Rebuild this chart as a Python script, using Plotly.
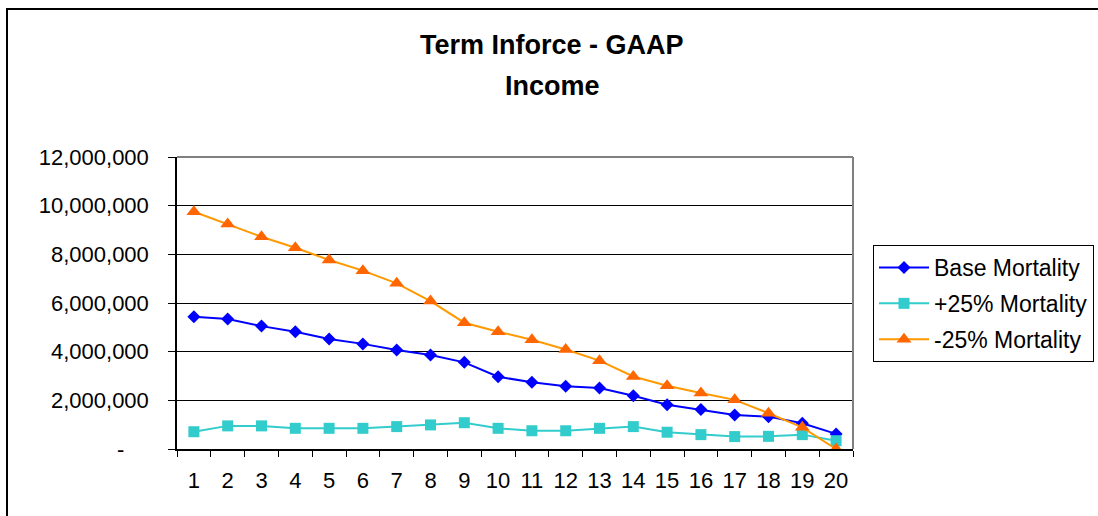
import plotly.graph_objects as go

years = [str(i) for i in range(1, 21)]
base_mortality = [5440000, 5340000, 5050000, 4820000, 4520000, 4320000, 4070000, 3860000, 3560000, 2970000,
                  2740000, 2580000, 2510000, 2190000, 1820000, 1620000, 1400000, 1330000, 1060000, 620000]
plus25_mortality = [710000, 950000, 950000, 850000, 850000, 850000, 920000, 990000, 1080000, 850000,
                    750000, 750000, 850000, 920000, 690000, 590000, 510000, 520000, 590000, 340000]
minus25_mortality = [9750000, 9250000, 8720000, 8270000, 7770000, 7330000, 6810000, 6080000, 5190000, 4820000,
                     4490000, 4090000, 3630000, 2980000, 2600000, 2300000, 2020000, 1470000, 890000, 0]
series_names = ["Base Mortality", "+25% Mortality", "-25% Mortality"]
y_tickvals = [0, 2000000, 4000000, 6000000, 8000000, 10000000, 12000000]
y_ticktext = ["-\u00a0\u00a0\u00a0\u00a0", "2,000,000", "4,000,000", "6,000,000", "8,000,000", "10,000,000", "12,000,000"]
title_lines = ["Term Inforce - GAAP", "Income"]

FONT = "Liberation Sans, Arial, sans-serif"

fig = go.Figure()
fig.add_trace(go.Scatter(
    x=years, y=base_mortality, name=series_names[0], mode="lines+markers",
    line=dict(color="#0000FF", width=2),
    marker=dict(symbol="diamond", size=10, color="#0000FF"),
    legendgroup="a"))
fig.add_trace(go.Scatter(
    x=years, y=plus25_mortality, name=series_names[1], mode="lines+markers",
    line=dict(color="#33CCCC", width=2),
    marker=dict(symbol="square", size=11, color="#33CCCC"),
    legendgroup="b"))
fig.add_trace(go.Scatter(
    x=years, y=minus25_mortality, name=series_names[2], mode="lines+markers",
    line=dict(color="#FF9900", width=2),
    marker=dict(symbol="triangle-up", size=13, color="#FF6600"),
    legendgroup="c"))

L, R, T, B = 177, 245, 157, 67
W, H = 1098, 516
pw, ph = W - L - R, H - T - B

def px_x(px):
    return (px - L) / pw

def px_y(py):
    return (H - B - py) / ph

fig.update_layout(
    width=W, height=H,
    margin=dict(l=L, r=R, t=T, b=B, pad=0, autoexpand=False),
    paper_bgcolor="white", plot_bgcolor="white",
    font=dict(family=FONT, size=22, color="black"),
    showlegend=True,
    legend=dict(
        x=px_x(873), y=px_y(245), xanchor="left", yanchor="top",
        bordercolor="#000000", borderwidth=1, bgcolor="white",
        font=dict(family=FONT, size=23, color="black"),
        tracegroupgap=3, traceorder="grouped", itemwidth=50,
    ),
    xaxis=dict(
        type="category", range=[-0.5, 19.5], tickangle=0, automargin=False,
        showline=True, linecolor="black", linewidth=1.5,
        ticks="outside", ticklen=6, tickcolor="black", tickwidth=1,
        tickson="boundaries", showgrid=False, zeroline=False,
        tickfont=dict(family=FONT, size=22, color="black"),
        ticklabelstandoff=11,
    ),
    yaxis=dict(
        range=[0, 12000000], tickvals=y_tickvals, ticktext=y_ticktext, automargin=False,
        showline=True, linecolor="black", linewidth=1.5,
        ticks="outside", ticklen=7, tickcolor="black", tickwidth=1,
        showgrid=True, gridcolor="black", gridwidth=1, zeroline=False,
        tickfont=dict(family=FONT, size=22, color="black"),
        ticklabelstandoff=15,
    ),
    shapes=[
        dict(type="line", xref="paper", yref="paper", x0=0, x1=1, y0=1, y1=1,
             line=dict(color="#808080", width=2), layer="above"),
        dict(type="line", xref="paper", yref="paper", x0=1, x1=1, y0=0, y1=1,
             line=dict(color="#808080", width=2), layer="above"),
        dict(type="rect", xref="paper", yref="paper",
             x0=px_x(7), x1=px_x(1120), y0=px_y(9), y1=px_y(540),
             line=dict(color="#000000", width=2), layer="above"),
    ],
    annotations=[
        dict(text="<b>" + title_lines[0] + "</b>", xref="paper", yref="paper",
             x=px_x(552), y=px_y(45), xanchor="center", yanchor="middle", showarrow=False,
             font=dict(family=FONT, size=27, color="black")),
        dict(text="<b>" + title_lines[1] + "</b>", xref="paper", yref="paper",
             x=px_x(552), y=px_y(86), xanchor="center", yanchor="middle", showarrow=False,
             font=dict(family=FONT, size=27, color="black")),
    ],
)

fig.write_html("out.html", config={"displayModeBar": False},
               post_script="document.body.style.margin='0';document.body.style.overflow='hidden';")
